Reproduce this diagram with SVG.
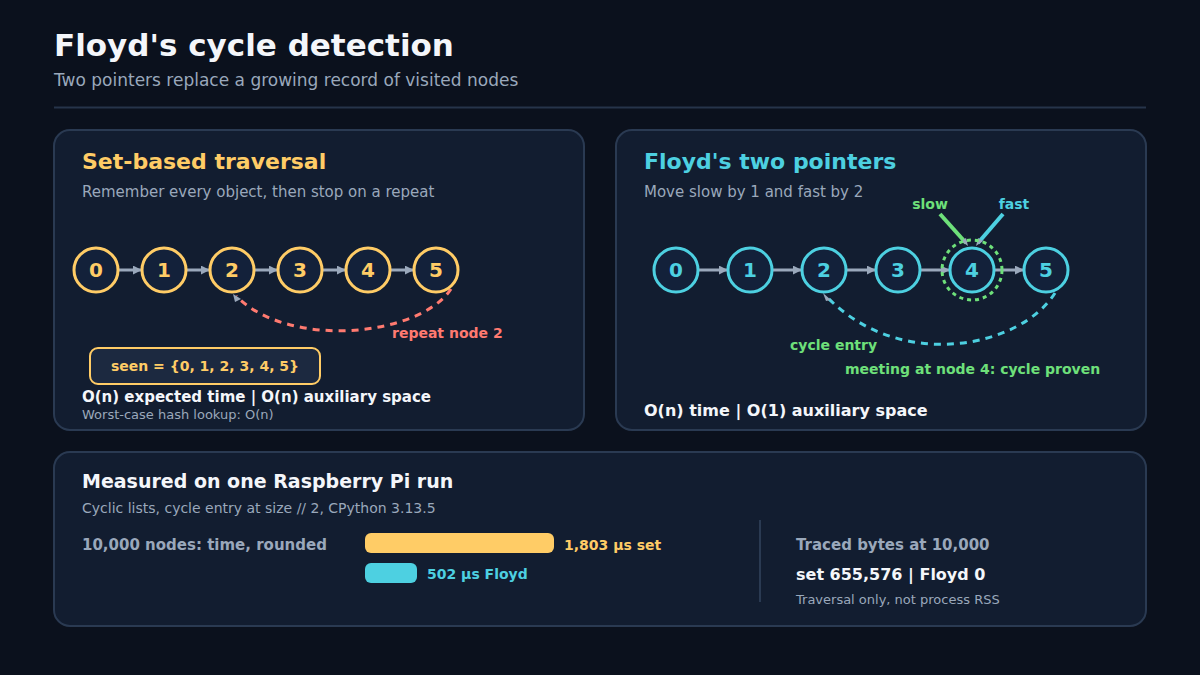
<svg xmlns="http://www.w3.org/2000/svg" width="1200" height="675" viewBox="0 0 1200 675">
<defs>
<style>
text{font-family:"DejaVu Sans","Noto Sans",sans-serif}
.b{font-weight:bold}
.panel{fill:#121d30;stroke:#2a3a52;stroke-width:2}
.sub{fill:#9aa8bb;font-size:15px}
.ny{fill:#13213a;stroke:#ffcc66;stroke-width:3}
.nc{fill:#13213a;stroke:#4dd0e1;stroke-width:3}
.ty{fill:#ffcc66;font-size:20px;font-weight:bold;text-anchor:middle}
.tc{fill:#4dd0e1;font-size:20px;font-weight:bold;text-anchor:middle}
.link{stroke:#9aa8bb;stroke-width:3;fill:none;marker-end:url(#ah)}
</style>
<marker id="ah" viewBox="0 0 10 10" refX="9" refY="5" markerWidth="3" markerHeight="3" orient="auto"><path d="M0,0L10,5L0,10z" fill="#9aa8bb"/></marker>
</defs>
<rect width="1200" height="675" fill="#0b111d"/>
<g id="header">
<text x="54" y="56" class="b" font-size="31" fill="#f4f6fa">Floyd's cycle detection</text>
<text x="54" y="86" font-size="17" fill="#9aa8bb">Two pointers replace a growing record of visited nodes</text>
<line x1="54" y1="107.5" x2="1146" y2="107.5" stroke="#26344a" stroke-width="2"/>
</g>
<g id="panel-set">
<rect x="54" y="130" width="530" height="300" rx="16" class="panel"/>
<text x="82" y="169" class="b" font-size="22" fill="#ffcc66">Set-based traversal</text>
<text x="82" y="197" class="sub">Remember every object, then stop on a repeat</text>
</g>
<g id="set-connectors">
<line x1="118" y1="270" x2="141" y2="270" class="link"/>
<line x1="186" y1="270" x2="209" y2="270" class="link"/>
<line x1="254" y1="270" x2="277" y2="270" class="link"/>
<line x1="322" y1="270" x2="345" y2="270" class="link"/>
<line x1="390" y1="270" x2="413" y2="270" class="link"/>
<path d="M451,289 C420,336 290,350 236,296" fill="none" stroke="#ff7a70" stroke-width="3" stroke-dasharray="7 6"/>
<path d="M241,299 L233,294 L235,302 z" fill="#9aa8bb"/>
</g>
<g id="set-nodes">
<g id="s0"><circle cx="96" cy="270" r="22" class="ny"/><text x="96" y="277" class="ty">0</text></g>
<g id="s1"><circle cx="164" cy="270" r="22" class="ny"/><text x="164" y="277" class="ty">1</text></g>
<g id="s2"><circle cx="232" cy="270" r="22" class="ny"/><text x="232" y="277" class="ty">2</text></g>
<g id="s3"><circle cx="300" cy="270" r="22" class="ny"/><text x="300" y="277" class="ty">3</text></g>
<g id="s4"><circle cx="368" cy="270" r="22" class="ny"/><text x="368" y="277" class="ty">4</text></g>
<g id="s5"><circle cx="436" cy="270" r="22" class="ny"/><text x="436" y="277" class="ty">5</text></g>
</g>
<g id="set-labels">
<text x="392" y="338" class="b" font-size="14" fill="#ff7a70">repeat node 2</text>
<g id="seen-box"><rect x="90" y="348" width="230" height="36" rx="8" fill="#1c2940" stroke="#ffcc66" stroke-width="2"/>
<text x="205" y="371" class="b" font-size="14" fill="#ffcc66" text-anchor="middle">seen = {0, 1, 2, 3, 4, 5}</text></g>
<text x="82" y="402" class="b" font-size="15" fill="#f4f6fa">O(n) expected time | O(n) auxiliary space</text>
<text x="82" y="419" font-size="13" fill="#9aa8bb">Worst-case hash lookup: O(n)</text>
</g>
<g id="panel-floyd">
<rect x="616" y="130" width="530" height="300" rx="16" class="panel"/>
<text x="644" y="169" class="b" font-size="22" fill="#4dd0e1">Floyd's two pointers</text>
<text x="644" y="197" class="sub">Move slow by 1 and fast by 2</text>
</g>
<g id="floyd-connectors">
<line x1="698" y1="270" x2="727" y2="270" class="link"/>
<line x1="772" y1="270" x2="801" y2="270" class="link"/>
<line x1="846" y1="270" x2="875" y2="270" class="link"/>
<line x1="920" y1="270" x2="949" y2="270" class="link"/>
<line x1="994" y1="270" x2="1023" y2="270" class="link"/>
<path d="M1055,293 C1020,348 900,372 827,297" fill="none" stroke="#4dd0e1" stroke-width="3" stroke-dasharray="7 6"/>
<path d="M831,300 L823,293 L826,301 z" fill="#9aa8bb"/>
<line x1="940" y1="214" x2="966" y2="243" stroke="#6ee07a" stroke-width="4"/>
<line x1="1003" y1="214" x2="978" y2="243" stroke="#4dd0e1" stroke-width="4"/>
<path d="M961,241 L968,246 L966,238 z" fill="#9aa8bb"/>
<path d="M983,241 L976,246 L978,238 z" fill="#9aa8bb"/>
</g>
<g id="floyd-nodes">
<g id="f0"><circle cx="676" cy="270" r="22" class="nc"/><text x="676" y="277" class="tc">0</text></g>
<g id="f1"><circle cx="750" cy="270" r="22" class="nc"/><text x="750" y="277" class="tc">1</text></g>
<g id="f2"><circle cx="824" cy="270" r="22" class="nc"/><text x="824" y="277" class="tc">2</text></g>
<g id="f3"><circle cx="898" cy="270" r="22" class="nc"/><text x="898" y="277" class="tc">3</text></g>
<g id="f4"><circle cx="972" cy="270" r="30" fill="none" stroke="#6ee07a" stroke-width="3" stroke-dasharray="4 4"/><circle cx="972" cy="270" r="22" class="nc"/><text x="972" y="277" class="tc">4</text></g>
<g id="f5"><circle cx="1046" cy="270" r="22" class="nc"/><text x="1046" y="277" class="tc">5</text></g>
</g>
<g id="floyd-labels">
<text x="930" y="209" class="b" font-size="14" fill="#6ee07a" text-anchor="middle">slow</text>
<text x="1014" y="209" class="b" font-size="14" fill="#4dd0e1" text-anchor="middle">fast</text>
<text x="790" y="350" class="b" font-size="14" fill="#6ee07a">cycle entry</text>
<text x="845" y="374" class="b" font-size="14" fill="#6ee07a">meeting at node 4: cycle proven</text>
<text x="644" y="416" class="b" font-size="16" fill="#f4f6fa">O(n) time | O(1) auxiliary space</text>
</g>
<g id="panel-measure">
<rect x="54" y="452" width="1092" height="174" rx="16" class="panel"/>
<text x="82" y="488" class="b" font-size="19" fill="#f4f6fa">Measured on one Raspberry Pi run</text>
<text x="82" y="513" font-size="14" fill="#9aa8bb">Cyclic lists, cycle entry at size // 2, CPython 3.13.5</text>
<text x="82" y="550" class="b" font-size="15" fill="#9aa8bb">10,000 nodes: time, rounded</text>
<rect x="365" y="533" width="189" height="20" rx="6" fill="#ffcc66"/>
<text x="564" y="550" class="b" font-size="14" fill="#ffcc66">1,803 µs set</text>
<rect x="365" y="563" width="52" height="20" rx="6" fill="#4dd0e1"/>
<text x="427" y="579" class="b" font-size="14" fill="#4dd0e1">502 µs Floyd</text>
<line x1="760" y1="520" x2="760" y2="602" stroke="#2a3a52" stroke-width="2"/>
<text x="796" y="550" class="b" font-size="15" fill="#9aa8bb">Traced bytes at 10,000</text>
<text x="796" y="580" class="b" font-size="16" fill="#f4f6fa">set 655,576 | Floyd 0</text>
<text x="796" y="604" font-size="13" fill="#9aa8bb">Traversal only, not process RSS</text>
</g>
</svg>
